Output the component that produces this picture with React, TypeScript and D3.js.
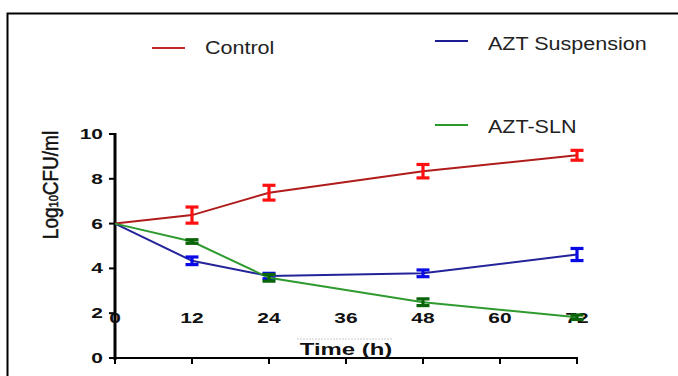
import { useMemo } from "react";
import { scaleLinear, line } from "d3";

// time points (h)
const times = [0, 12, 24, 48, 72];
const xTicks = [0, 12, 24, 36, 48, 60, 72];
const yTicks = [0, 2, 4, 6, 8, 10];

// mean log10 CFU/ml and error
const controlMean = [6.0, 6.38, 7.38, 8.34, 9.05];
const controlErr = [0, 0.36, 0.33, 0.3, 0.22];
const suspMean = [6.0, 4.34, 3.66, 3.78, 4.62];
const suspErr = [0, 0.17, 0.12, 0.15, 0.27];
const slnMean = [6.0, 5.2, 3.58, 2.49, 1.82];
const slnErr = [0, 0.08, 0.15, 0.15, 0.1];

const series = [
  { name: "Control", mean: controlMean, err: controlErr, line: "#b01c1c", bar: "#ff1010" },
  { name: "AZT Suspension", mean: suspMean, err: suspErr, line: "#23239a", bar: "#0a0ae6" },
  { name: "AZT-SLN", mean: slnMean, err: slnErr, line: "#2f9a2f", bar: "#0a640a" },
];

const legend = [
  { name: "Control", color: "#c0282a", x: 152, y: 48, ty: 54 },
  { name: "AZT Suspension", color: "#1c1c90", x: 435, y: 41, ty: 50 },
  { name: "AZT-SLN", color: "#2a9a2a", x: 435, y: 125, ty: 133 },
];

const FONT = "'Liberation Sans', Arial, sans-serif";
const SX = 1.35; // picture is stretched sideways

export default function App() {
  const x = useMemo(() => scaleLinear().domain([0, 72]).range([115, 577]), []);
  const y = useMemo(() => scaleLinear().domain([0, 10]).range([358, 134]), []);

  const lineGen = line<[number, number]>()
    .x((d) => x(d[0]))
    .y((d) => y(d[1]));

  return (
    <svg
      width={678}
      height={376}
      style={{ position: "absolute", left: 0, top: 0, background: "#fff" }}
      fontFamily={FONT}
    >
      {/* frame */}
      <rect x={7.5} y={13.5} width={700} height={400} fill="none" stroke="#000" strokeWidth={2} />

      {/* legend */}
      {legend.map((l) => (
        <g key={l.name}>
          <line x1={l.x} x2={l.x + 33} y1={l.y} y2={l.y} stroke={l.color} strokeWidth={2} />
          <text
            transform={`translate(${l.x + 53}, ${l.ty}) scale(1.23, 1)`}
            fontSize={17.5}
            fill="#222"
          >
            {l.name}
          </text>
        </g>
      ))}

      {/* y axis */}
      <line x1={115} x2={115} y1={y(10) - 1} y2={y(0) + 2} stroke="#000" strokeWidth={3} />
      {yTicks.map((t) => (
        <g key={t}>
          <line x1={109} x2={115} y1={y(t)} y2={y(t)} stroke="#000" strokeWidth={2} />
          <text
            transform={`translate(103, ${y(t) + 5}) scale(${SX}, 1)`}
            textAnchor="end"
            fontSize={15.5}
            fontWeight="bold"
            fill="#111"
          >
            {t}
          </text>
        </g>
      ))}
      <text
        transform={`translate(58, 185) rotate(-90) scale(1, 1.15)`}
        textAnchor="middle"
        fontSize={19}
        fill="#111"
        stroke="#111"
        strokeWidth={0.4}
      >
        Log<tspan fontSize={11}>10</tspan>CFU/ml
      </text>

      {/* x axis */}
      <line x1={114} x2={x(72) + 1} y1={358} y2={358} stroke="#000" strokeWidth={2} />
      {xTicks.map((t) => (
        <g key={t}>
          <line x1={x(t)} x2={x(t)} y1={358} y2={364} stroke="#000" strokeWidth={2} />
          <text
            transform={`translate(${x(t)}, 323) scale(${SX}, 1)`}
            textAnchor="middle"
            fontSize={15.5}
            fontWeight="bold"
            fill="#111"
          >
            {t}
          </text>
        </g>
      ))}
      <line x1={297} x2={393} y1={339} y2={339} stroke="#ccc" strokeWidth={1} strokeDasharray="2,1" />
      <text
        transform={`translate(346, 355) scale(1.45, 1)`}
        textAnchor="middle"
        fontSize={16.5}
        fontWeight="bold"
        fill="#111"
      >
        Time (h)
      </text>

      {/* series */}
      {series.map((s) => (
        <g key={s.name}>
          <path
            d={lineGen(times.map((t, i) => [t, s.mean[i]] as [number, number])) || ""}
            fill="none"
            stroke={s.line}
            strokeWidth={2}
          />
          {times.map((t, i) =>
            s.err[i] > 0 ? (
              <g key={t} stroke={s.bar} strokeWidth={3.2}>
                <line x1={x(t)} x2={x(t)} y1={y(s.mean[i] + s.err[i])} y2={y(s.mean[i] - s.err[i])} />
                <line x1={x(t) - 6.5} x2={x(t) + 6.5} y1={y(s.mean[i] + s.err[i])} y2={y(s.mean[i] + s.err[i])} />
                <line x1={x(t) - 6.5} x2={x(t) + 6.5} y1={y(s.mean[i] - s.err[i])} y2={y(s.mean[i] - s.err[i])} />
              </g>
            ) : null
          )}
        </g>
      ))}
    </svg>
  );
}
